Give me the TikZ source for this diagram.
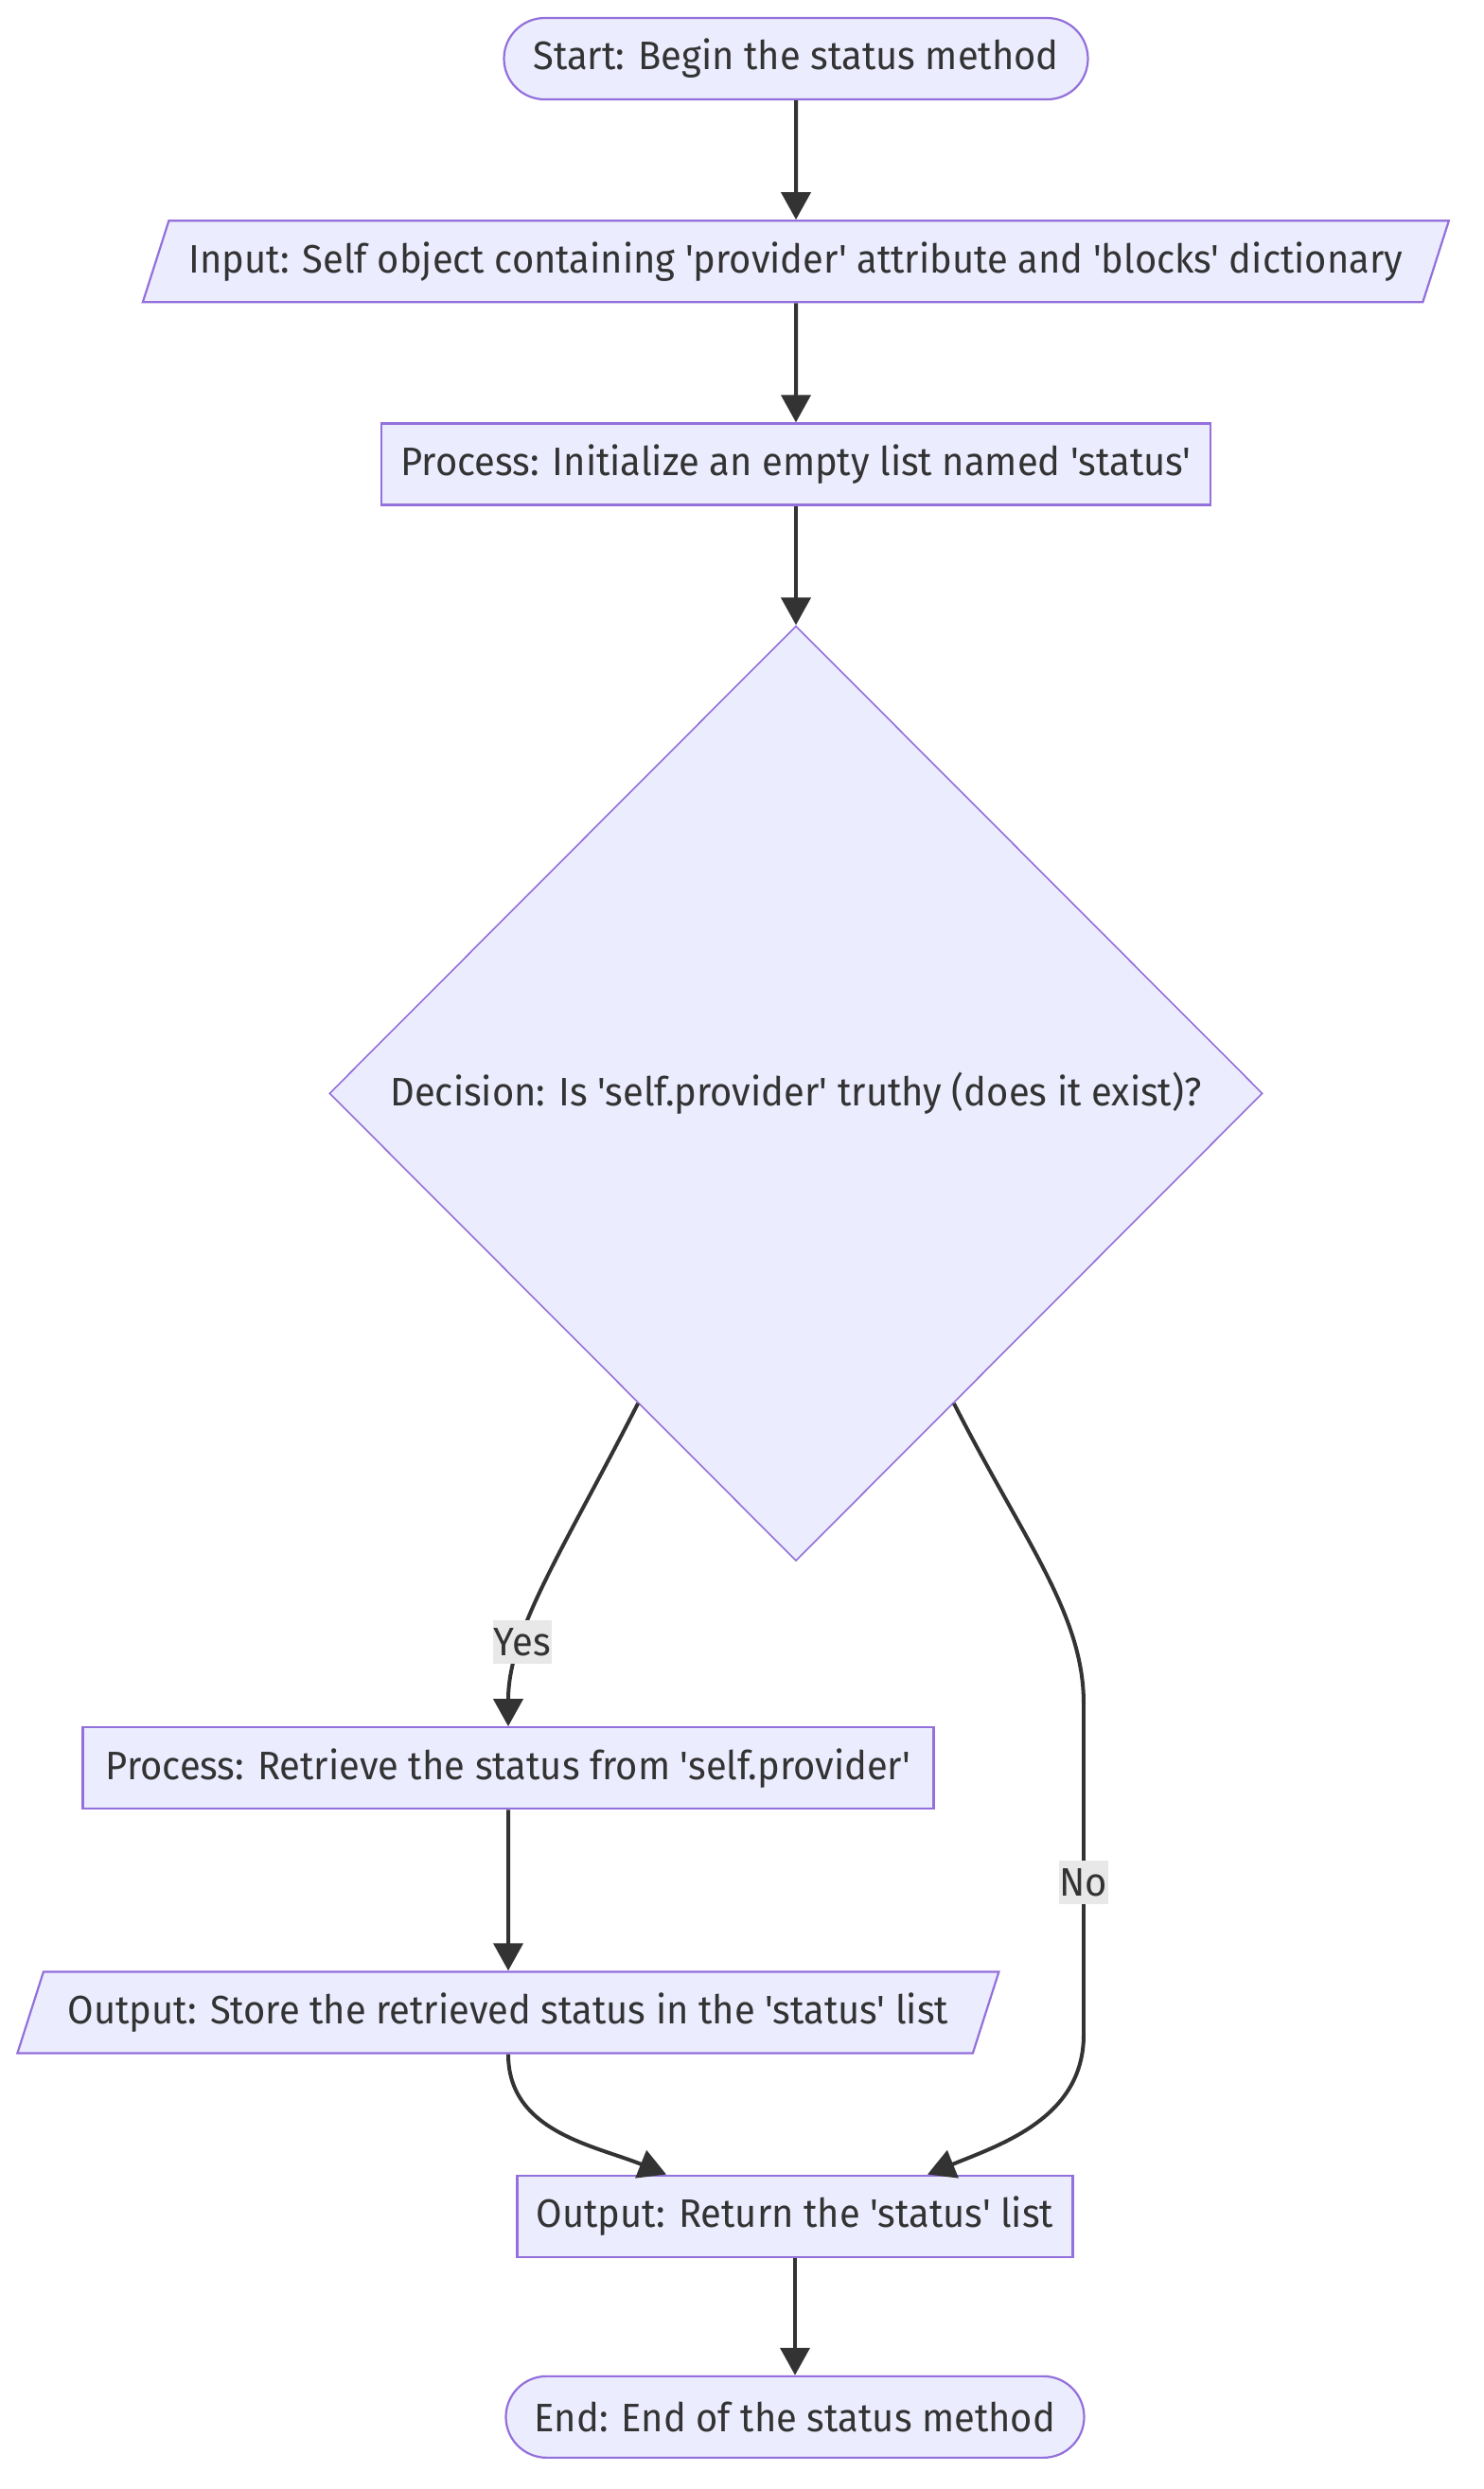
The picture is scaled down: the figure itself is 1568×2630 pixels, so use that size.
\documentclass[tikz,border=0pt]{standalone}
\usepackage{fontspec}
\setmainfont{Fira Sans}[Ligatures=TeXOff, FakeStretch=0.95]
\usetikzlibrary{shapes.geometric, positioning, arrows.meta}

\definecolor{boxfill}{HTML}{ECECFF}
\definecolor{boxline}{HTML}{9370DB}
\definecolor{ink}{HTML}{333333}
\definecolor{lblfill}{HTML}{E8E8E8}

\begin{document}
\begin{tikzpicture}[x=0.5pt, y=-0.5pt, >={Triangle[length=14.5pt, width=15.5pt]}, line width=2pt,
    node distance=63pt,
    base/.style={draw=boxline, fill=boxfill, text=ink, line width=1.1pt, minimum height=43pt,
        inner sep=4pt, font=\fontsize{21}{25}\selectfont},
    terminal/.style={base, rectangle, rounded corners=21.5pt},
    process/.style={base, rectangle},
    io/.style={base, trapezium, trapezium left angle=64.5, trapezium right angle=115.5,
        trapezium stretches body},
    decision/.style={base, diamond, line width=0.8pt, minimum width=493pt, minimum height=494pt},
    lbl/.style={fill=lblfill, text=ink, inner xsep=0.5pt, inner ysep=0pt, minimum height=23pt,
        font=\fontsize{21}{25}\selectfont}]
    \useasboundingbox (0,0) rectangle (1568,2630);

    % Start, input and first step
    \node[terminal, minimum width=308.5pt] (start) at (841,62) {Start: Begin the status method};
    \node[io, minimum width=690pt] (input) [below=of start] {Input: Self object containing 'provider' attribute and 'blocks' dictionary};
    \node[process, minimum width=438pt] (init) [below=of input] {Process: Initialize an empty list named 'status'};

    % Decision
    \node[decision] (check) [below=of init] {Decision: Is 'self.provider' truthy (does it exist)?};

    % Yes branch
    \node[process, minimum width=449.5pt] (fetch) [below=87pt of check, xshift=-152pt] {Process: Retrieve the status from 'self.provider'};
    \node[io, minimum width=518.5pt] (store) [below=85pt of fetch] {Output: Store the retrieved status in the 'status' list};

    % Return and end
    \node[process, minimum width=293.5pt] (ret) [below=63.5pt of store, xshift=151.5pt] {Output: Return the 'status' list};
    \node[terminal, minimum width=305.5pt] (stop) [below=62pt of ret] {End: End of the status method};

    % No branch runs straight down here
    \coordinate (nodown) at (1145,1800);
    \coordinate (noturn) at (1145,2150);

    \path[->, color=ink]
    (start) edge (input)
    (input) edge (init)
    (init) edge (check)

    % Yes
    (check.243) edge[out=243, in=90, out looseness=1.2, in looseness=0.7] node[lbl, pos=0.7] {Yes} (fetch.north)
    (fetch) edge (store)
    (store.south) edge[out=-90, in=158] ([xshift=-68pt]ret.north)

    % No
    (check.297) edge[-, out=297, in=90, out looseness=1.2, in looseness=0.7] (nodown)
    (nodown) edge[-] node[lbl, pos=0.54] {No} (noturn)
    (noturn) edge[out=-90, in=22] ([xshift=70pt]ret.north)

    (ret) edge (stop);
\end{tikzpicture}
\end{document}
